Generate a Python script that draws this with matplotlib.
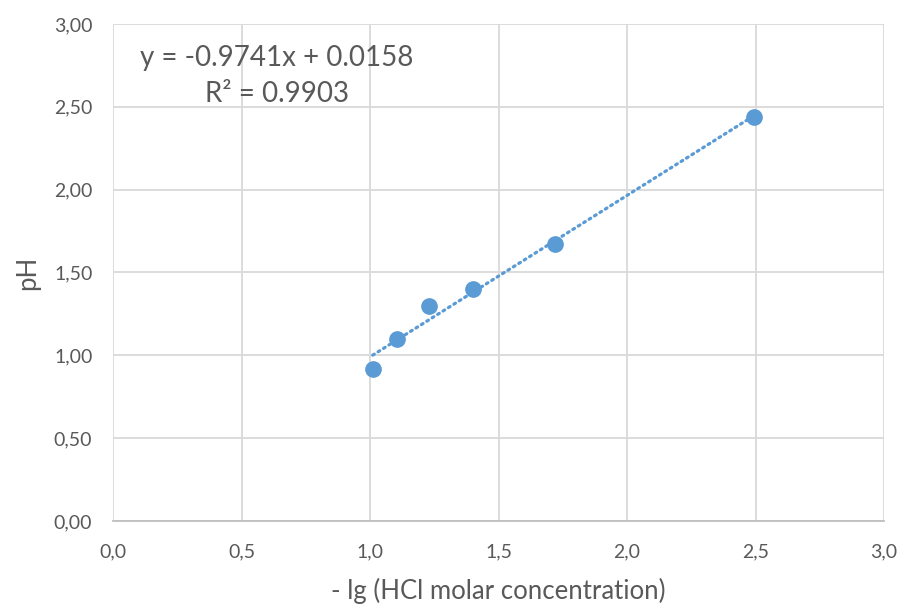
import matplotlib
matplotlib.use("Agg")
from matplotlib import pyplot as plt
import numpy as np

plt.rcParams['font.family'] = ['Lato', 'DejaVu Sans']

# -lg(HCl molar concentration) and measured pH
neg_lg_conc = [1.01, 1.105, 1.23, 1.40, 1.72, 2.495]
ph = [0.92, 1.10, 1.30, 1.40, 1.67, 2.44]

x_ticks = [0.0, 0.5, 1.0, 1.5, 2.0, 2.5, 3.0]
y_ticks = [0.0, 0.5, 1.0, 1.5, 2.0, 2.5, 3.0]
equation = "y = -0.9741x + 0.0158\nR² = 0.9903"

blue = '#5B9BD5'
gray = '#595959'

fig = plt.figure(figsize=(9.02, 6.07), dpi=100)
ax = fig.add_axes([0.1255, 0.1417, 0.8545, 0.8188])

# linear trendline computed from the data
slope, intercept = np.polyfit(neg_lg_conc, ph, 1)
xs = np.array([min(neg_lg_conc), max(neg_lg_conc)])
ax.plot(xs, slope * xs + intercept, color=blue, lw=2.3,
        linestyle=(0, (0.6, 1.4)), dash_capstyle='round', zorder=2)

ax.plot(neg_lg_conc, ph, 'o', color=blue, markersize=11, zorder=3)

ax.set_xlim(0, 3)
ax.set_ylim(0, 3)
ax.set_xticks(x_ticks)
ax.set_yticks(y_ticks)
ax.set_xticklabels([f"{v:.1f}".replace('.', ',') for v in x_ticks])
ax.set_yticklabels([f"{v:.2f}".replace('.', ',') for v in y_ticks])
ax.tick_params(length=0, labelsize=14, colors=gray)
ax.tick_params(axis='x', pad=16)
ax.tick_params(axis='y', pad=15)

ax.grid(True, color='#D9D9D9', lw=1.3)
ax.set_axisbelow(True)
for s in ['top', 'right', 'left']:
    ax.spines[s].set_visible(False)
ax.spines['bottom'].set_color('#BFBFBF')
ax.spines['bottom'].set_linewidth(1.3)

ax.set_xlabel("- lg (HCl molar concentration)", fontsize=18.5, color=gray, labelpad=13)
ax.set_ylabel("pH", fontsize=18.5, color=gray, labelpad=10)

ax.text(0.637, 2.685, equation, ha='center', va='center', fontsize=20,
        color=gray, linespacing=1.45)

fig.savefig("out.png", dpi=100)
